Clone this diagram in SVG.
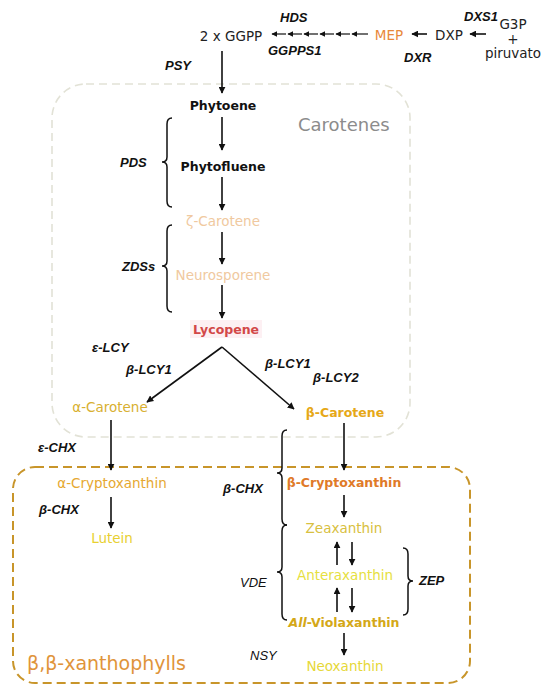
<svg xmlns="http://www.w3.org/2000/svg" width="550" height="693" viewBox="0 0 550 693">
<defs>
<marker id="ah" viewBox="0 0 10 10" refX="9" refY="5" markerWidth="7" markerHeight="7" markerUnits="userSpaceOnUse" orient="auto">
<path d="M0,0 L10,5 L0,10 z" fill="#111"/>
</marker>
<marker id="ahs" viewBox="0 0 10 10" refX="9" refY="5" markerWidth="6" markerHeight="6" markerUnits="userSpaceOnUse" orient="auto">
<path d="M0,0 L10,5 L0,10 z" fill="#111"/>
</marker>
</defs>
<style>
.n{font-family:"DejaVu Sans",sans-serif;font-size:13.5px;text-anchor:middle;dominant-baseline:central}
.b{font-weight:bold;font-size:12.5px}
.e{font-family:"Liberation Sans",Arial,sans-serif;font-size:13px;font-weight:bold;font-style:italic;fill:#111;dominant-baseline:central}
.ei{font-family:"Liberation Sans",Arial,sans-serif;font-size:13px;font-style:italic;fill:#111;dominant-baseline:central}
.a{stroke:#111;stroke-width:1.6;fill:none;marker-end:url(#ah)}
.ad{stroke:#111;stroke-width:1.2;fill:none;marker-end:url(#ahs)}
.br{stroke:#111;stroke-width:1.5;fill:none}
</style>
<rect width="550" height="693" fill="#fff"/>

<g id="box-carotenes">
<rect x="52" y="84" width="358" height="353" rx="34" fill="none" stroke="#e2e2d6" stroke-width="1.6" stroke-dasharray="8,5"/>
<text x="298" y="124" font-family="DejaVu Sans,sans-serif" font-size="18" fill="#8c8c8c" dominant-baseline="central">Carotenes</text>
</g>
<g id="box-xanthophylls">
<rect x="13" y="467" width="457" height="216" rx="22" fill="none" stroke="#c8952a" stroke-width="2" stroke-dasharray="9,5"/>
<text x="27" y="663" font-family="DejaVu Sans,sans-serif" font-size="19" fill="#e0943a" dominant-baseline="central">β,β-xanthophylls</text>
</g>

<g id="connectors">
<line class="a" x1="427" y1="34" x2="412" y2="34"/>
<line class="a" x1="486" y1="34" x2="470" y2="34"/>
<line class="ad" x1="286" y1="34" x2="272" y2="34"/>
<line class="ad" x1="302" y1="34" x2="288" y2="34"/>
<line class="ad" x1="318" y1="34" x2="304" y2="34"/>
<line class="ad" x1="334" y1="34" x2="320" y2="34"/>
<line class="ad" x1="350" y1="34" x2="336" y2="34"/>
<line class="ad" x1="368" y1="34" x2="352" y2="34"/>
<line class="a" x1="222" y1="51" x2="222" y2="93"/>
<line class="a" x1="222" y1="117" x2="222" y2="150"/>
<line class="a" x1="222" y1="177" x2="222" y2="210"/>
<line class="a" x1="222" y1="232" x2="222" y2="264"/>
<line class="a" x1="222" y1="285" x2="222" y2="318"/>
<line class="a" x1="222" y1="347" x2="147" y2="402"/>
<line class="a" x1="222" y1="347" x2="294" y2="409"/>
<line class="a" x1="111" y1="420" x2="111" y2="470"/>
<line class="a" x1="111" y1="497" x2="111" y2="528"/>
<line class="a" x1="344" y1="423" x2="344" y2="470"/>
<line class="a" x1="344" y1="495" x2="344" y2="517"/>
<line class="a" x1="337" y1="565" x2="337" y2="542"/>
<line class="a" x1="352" y1="542" x2="352" y2="565"/>
<line class="a" x1="337" y1="612" x2="337" y2="588"/>
<line class="a" x1="352" y1="588" x2="352" y2="612"/>
<line class="a" x1="344" y1="633" x2="344" y2="655"/>
<path class="br" d="M172,118 Q167,118 167,124 L167,157 Q167,162 162,162 Q167,162 167,167 L167,201 Q167,207 172,207"/>
<path class="br" d="M172,225 Q167,225 167,231 L167,261 Q167,266 162,266 Q167,266 167,271 L167,306 Q167,312 172,312"/>
<path class="br" d="M287,430 Q282,430 282,436 L282,468 Q282,473 277,473 Q282,473 282,478 L282,519 Q282,525 287,525"/>
<path class="br" d="M287,525 Q282,525 282,531 L282,567 Q282,572 277,572 Q282,572 282,577 L282,614 Q282,620 287,620"/>
<path class="br" d="M403,548 Q408,548 408,554 L408,576 Q408,581 413,581 Q408,581 408,586 L408,609 Q408,615 403,615"/>
</g>

<g id="n-ggpp"><text class="n" x="231" y="36" fill="#222" font-size="14.5">2 x GGPP</text></g>
<g id="n-mep"><text class="n" x="389" y="35" fill="#e8883a" font-size="14">MEP</text></g>
<g id="n-dxp"><text class="n" x="449" y="35" fill="#222" font-size="14">DXP</text></g>
<g id="n-g3p">
<text class="n" x="513" y="24" fill="#222" font-size="13.5">G3P</text>
<text class="n" x="513" y="38.5" fill="#222" font-size="9">+</text>
<text class="n" x="513" y="53" fill="#222" font-size="13.5">piruvato</text>
</g>
<g id="n-phytoene"><text class="n b" x="223" y="105" fill="#111">Phytoene</text></g>
<g id="n-phytofluene"><text class="n b" x="223" y="166" fill="#111">Phytofluene</text></g>
<g id="n-zcarotene"><text class="n" x="223" y="221" fill="#f0c9a0">ζ-Carotene</text></g>
<g id="n-neurosporene"><text class="n" x="223" y="275" fill="#f0c9a0">Neurosporene</text></g>
<g id="n-lycopene"><rect x="190" y="320" width="72" height="18" fill="#fdf0f3"/><text class="n b" x="226" y="329" fill="#d24848">Lycopene</text></g>
<g id="n-acarotene"><text class="n" x="110" y="407" fill="#d8b030">α-Carotene</text></g>
<g id="n-bcarotene"><text class="n b" x="345" y="412" fill="#e6a817">β-Carotene</text></g>
<g id="n-acrypto"><text class="n" x="112" y="483" fill="#e6a830">α-Cryptoxanthin</text></g>
<g id="n-lutein"><text class="n" x="112" y="538" fill="#e8d030">Lutein</text></g>
<g id="n-bcrypto"><text class="n b" x="344" y="482" fill="#e07a28">β-Cryptoxanthin</text></g>
<g id="n-zeaxanthin"><text class="n" x="344" y="528" fill="#d8c040">Zeaxanthin</text></g>
<g id="n-anteraxanthin"><text class="n" x="345" y="575" fill="#e6e040">Anteraxanthin</text></g>
<g id="n-violaxanthin"><text class="n b" x="344" y="622" fill="#d4a818"><tspan font-style="italic">All</tspan>-Violaxanthin</text></g>
<g id="n-neoxanthin"><text class="n" x="345" y="666" fill="#e6d838">Neoxanthin</text></g>

<g id="enzymes">
<text class="e" x="280" y="17">HDS</text>
<text class="e" x="268" y="50">GGPPS1</text>
<text class="e" x="464" y="16">DXS1</text>
<text class="e" x="404" y="57">DXR</text>
<text class="e" x="165" y="65">PSY</text>
<text class="e" x="120" y="162">PDS</text>
<text class="e" x="122" y="266">ZDSs</text>
<text class="e" x="92" y="347">ε-LCY</text>
<text class="e" x="126" y="369">β-LCY1</text>
<text class="e" x="265" y="363">β-LCY1</text>
<text class="e" x="313" y="377">β-LCY2</text>
<text class="e" x="38" y="447">ε-CHX</text>
<text class="e" x="39" y="509">β-CHX</text>
<text class="e" x="223" y="488">β-CHX</text>
<text class="ei" x="240" y="582">VDE</text>
<text class="ei" x="250" y="655">NSY</text>
<text class="e" x="419" y="580">ZEP</text>
</g>
</svg>
